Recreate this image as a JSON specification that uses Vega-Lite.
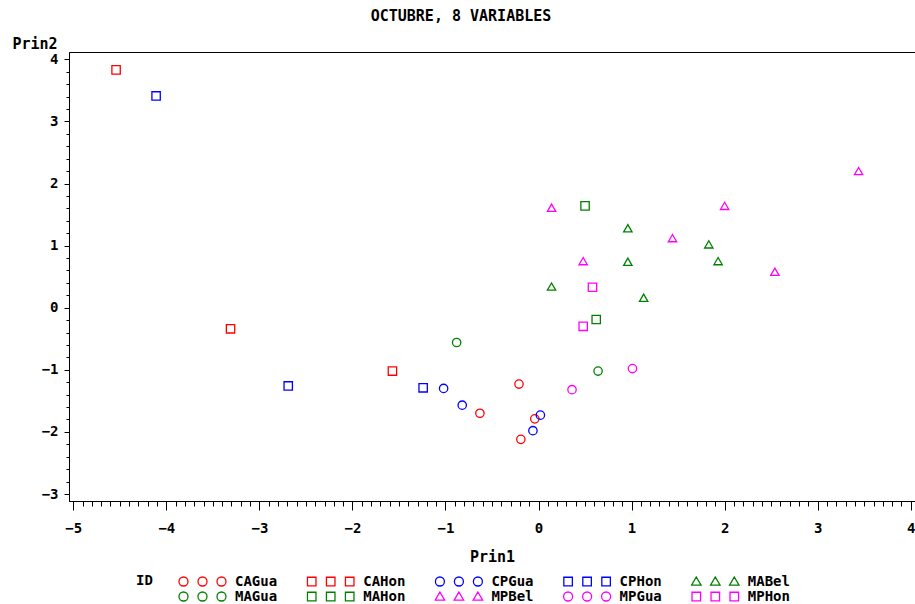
{
  "$schema": "https://vega.github.io/schema/vega-lite/v6.json",
  "autosize": "none",
  "padding": {"left": 69, "top": 52, "right": 0, "bottom": 103},
  "width": 846,
  "height": 449,
  "background": "#ffffff",
  "title": {
    "text": "OCTUBRE, 8 VARIABLES",
    "anchor": "middle",
    "frame": "group",
    "dx": -31,
    "offset": 12,
    "font": "DejaVu Sans Mono",
    "fontSize": 15,
    "fontWeight": "bold",
    "color": "#000000"
  },
  "config": {
    "view": {"stroke": "#000000", "strokeWidth": 1},
    "axis": {
      "grid": false,
      "domainColor": "#000000",
      "tickColor": "#000000",
      "labelColor": "#000000",
      "titleColor": "#000000",
      "labelFont": "DejaVu Sans Mono",
      "labelFontWeight": "bold",
      "labelFontSize": 14,
      "titleFont": "DejaVu Sans Mono",
      "titleFontWeight": "bold",
      "titleFontSize": 15
    }
  },
  "data": {
    "values": [
      {"ID": "CAGua", "Prin1": -0.21, "Prin2": -1.23},
      {"ID": "CAGua", "Prin1": -0.63, "Prin2": -1.70},
      {"ID": "CAGua", "Prin1": -0.04, "Prin2": -1.79},
      {"ID": "CAGua", "Prin1": -0.19, "Prin2": -2.12},
      {"ID": "CAHon", "Prin1": -4.54, "Prin2": 3.83},
      {"ID": "CAHon", "Prin1": -3.31, "Prin2": -0.34},
      {"ID": "CAHon", "Prin1": -1.57, "Prin2": -1.02},
      {"ID": "CPGua", "Prin1": -1.02, "Prin2": -1.30},
      {"ID": "CPGua", "Prin1": -0.82, "Prin2": -1.57},
      {"ID": "CPGua", "Prin1": 0.02, "Prin2": -1.73},
      {"ID": "CPGua", "Prin1": -0.06, "Prin2": -1.98},
      {"ID": "CPHon", "Prin1": -4.11, "Prin2": 3.41},
      {"ID": "CPHon", "Prin1": -2.69, "Prin2": -1.26},
      {"ID": "CPHon", "Prin1": -1.24, "Prin2": -1.29},
      {"ID": "MABel", "Prin1": 0.96, "Prin2": 1.28},
      {"ID": "MABel", "Prin1": 1.83, "Prin2": 1.02},
      {"ID": "MABel", "Prin1": 0.96, "Prin2": 0.74},
      {"ID": "MABel", "Prin1": 1.93, "Prin2": 0.75},
      {"ID": "MABel", "Prin1": 0.14, "Prin2": 0.34},
      {"ID": "MABel", "Prin1": 1.13, "Prin2": 0.16},
      {"ID": "MAGua", "Prin1": -0.88, "Prin2": -0.56},
      {"ID": "MAGua", "Prin1": 0.64, "Prin2": -1.02},
      {"ID": "MAHon", "Prin1": 0.50, "Prin2": 1.64},
      {"ID": "MAHon", "Prin1": 0.62, "Prin2": -0.19},
      {"ID": "MPBel", "Prin1": 3.44, "Prin2": 2.20},
      {"ID": "MPBel", "Prin1": 0.14, "Prin2": 1.61},
      {"ID": "MPBel", "Prin1": 2.00, "Prin2": 1.64},
      {"ID": "MPBel", "Prin1": 1.44, "Prin2": 1.12},
      {"ID": "MPBel", "Prin1": 0.48, "Prin2": 0.75},
      {"ID": "MPBel", "Prin1": 2.54, "Prin2": 0.58},
      {"ID": "MPGua", "Prin1": 0.36, "Prin2": -1.32},
      {"ID": "MPGua", "Prin1": 1.01, "Prin2": -0.98},
      {"ID": "MPHon", "Prin1": 0.58, "Prin2": 0.33},
      {"ID": "MPHon", "Prin1": 0.48, "Prin2": -0.30}
    ]
  },
  "layer": [
    {
      "mark": {"type": "point", "filled": false, "size": 70, "strokeWidth": 1.3, "opacity": 1},
      "encoding": {
        "x": {
          "field": "Prin1", "type": "quantitative",
          "scale": {"domain": [-5.046, 4.046], "nice": false, "zero": false},
          "axis": {
            "orient": "bottom",
            "values": [-5, -4, -3, -2, -1, 0, 1, 2, 3, 4],
            "format": "d",
            "tickSize": 9,
            "labelPadding": 11,
            "labelBaseline": "top",
            "title": "Prin1",
            "titleBaseline": "alphabetic",
            "titleY": 60
          }
        },
        "y": {
          "field": "Prin2", "type": "quantitative",
          "scale": {"domain": [-3.1127, 4.1176], "nice": false, "zero": false},
          "axis": {
            "orient": "left",
            "values": [-3, -2, -1, 0, 1, 2, 3, 4],
            "format": "d",
            "tickSize": 5,
            "labelPadding": 6,
            "title": "Prin2",
            "titleAngle": 0,
            "titleAlign": "left",
            "titleBaseline": "alphabetic",
            "titleX": -57,
            "titleY": -4
          }
        },
        "color": {
          "field": "ID", "type": "nominal",
          "scale": {
            "domain": ["CAGua", "CAHon", "CPGua", "CPHon", "MABel", "MAGua", "MAHon", "MPBel", "MPGua", "MPHon"],
            "range": ["#ff0000", "#ff0000", "#0000ff", "#0000ff", "#008000", "#008000", "#008000", "#ff00ff", "#ff00ff", "#ff00ff"]
          },
          "legend": null
        },
        "shape": {
          "field": "ID", "type": "nominal",
          "scale": {
            "domain": ["CAGua", "CAHon", "CPGua", "CPHon", "MABel", "MAGua", "MAHon", "MPBel", "MPGua", "MPHon"],
            "range": ["circle", "square", "circle", "square", "triangle-up", "circle", "square", "triangle-up", "circle", "square"]
          },
          "legend": null
        }
      }
    },
    {
      "mark": {"type": "point", "filled": false, "opacity": 0},
      "encoding": {
        "x": {
          "field": "Prin1", "type": "quantitative",
          "axis": {
            "orient": "bottom",
            "values": [-5, -4.9, -4.8, -4.7, -4.6, -4.5, -4.4, -4.3, -4.2, -4.1, -4, -3.9, -3.8, -3.7, -3.6, -3.5, -3.4, -3.3, -3.2, -3.1, -3, -2.9, -2.8, -2.7, -2.6, -2.5, -2.4, -2.3, -2.2, -2.1, -2, -1.9, -1.8, -1.7, -1.6, -1.5, -1.4, -1.3, -1.2, -1.1, -1, -0.9, -0.8, -0.7, -0.6, -0.5, -0.4, -0.3, -0.2, -0.1, 0, 0.1, 0.2, 0.3, 0.4, 0.5, 0.6, 0.7, 0.8, 0.9, 1, 1.1, 1.2, 1.3, 1.4, 1.5, 1.6, 1.7, 1.8, 1.9, 2, 2.1, 2.2, 2.3, 2.4, 2.5, 2.6, 2.7, 2.8, 2.9, 3, 3.1, 3.2, 3.3, 3.4, 3.5, 3.6, 3.7, 3.8, 3.9, 4],
            "labels": false,
            "domain": false,
            "tickSize": 5,
            "title": null
          }
        },
        "y": {
          "field": "Prin2", "type": "quantitative",
          "axis": {
            "orient": "left",
            "values": [-3, -2.8, -2.6, -2.4, -2.2, -2, -1.8, -1.6, -1.4, -1.2, -1, -0.8, -0.6, -0.4, -0.2, 0, 0.2, 0.4, 0.6, 0.8, 1, 1.2, 1.4, 1.6, 1.8, 2, 2.2, 2.4, 2.6, 2.8, 3, 3.2, 3.4, 3.6, 3.8, 4],
            "labels": false,
            "domain": false,
            "tickSize": 3,
            "title": null
          }
        },
        "color": {
          "field": "ID", "type": "nominal",
          "scale": {
            "domain": ["CAGua", "CAHon", "CPGua", "CPHon", "MABel", "MAGua", "MAHon", "MPBel", "MPGua", "MPHon"],
            "range": ["#ff0000", "#ff0000", "#0000ff", "#0000ff", "#008000", "#008000", "#008000", "#ff00ff", "#ff00ff", "#ff00ff"]
          },
          "legend": {
            "orient": "none", "legendX": 67, "legendY": 522,
            "direction": "horizontal", "columns": 5,
            "title": "ID", "titleOrient": "left", "titlePadding": 25, "titleAnchor": "start",
            "titleFont": "DejaVu Sans Mono", "titleFontSize": 14, "titleFontWeight": "bold", "titleColor": "#000000",
            "labelFont": "DejaVu Sans Mono", "labelFontSize": 14, "labelFontWeight": "bold", "labelColor": "#000000",
            "symbolSize": 2256, "symbolStrokeWidth": 1.3, "symbolOpacity": 1, "clipHeight": 15,
            "labelOffset": 8, "columnPadding": 28.2, "rowPadding": 0, "padding": 0
          }
        },
        "shape": {
          "field": "ID", "type": "nominal",
          "scale": {
            "domain": ["CAGua", "CAHon", "CPGua", "CPHon", "MABel", "MAGua", "MAHon", "MPBel", "MPGua", "MPHon"],
            "range": [
              "M-0.61,0A0.19,0.19 0 1,1 -0.99,0A0.19,0.19 0 1,1 -0.61,0ZM0.19,0A0.19,0.19 0 1,1 -0.19,0A0.19,0.19 0 1,1 0.19,0ZM0.99,0A0.19,0.19 0 1,1 0.61,0A0.19,0.19 0 1,1 0.99,0Z",
              "M-0.98,-0.18H-0.62V0.18H-0.98ZM-0.18,-0.18H0.18V0.18H-0.18ZM0.62,-0.18H0.98V0.18H0.62Z",
              "M-0.61,0A0.19,0.19 0 1,1 -0.99,0A0.19,0.19 0 1,1 -0.61,0ZM0.19,0A0.19,0.19 0 1,1 -0.19,0A0.19,0.19 0 1,1 0.19,0ZM0.99,0A0.19,0.19 0 1,1 0.61,0A0.19,0.19 0 1,1 0.99,0Z",
              "M-0.98,-0.18H-0.62V0.18H-0.98ZM-0.18,-0.18H0.18V0.18H-0.18ZM0.62,-0.18H0.98V0.18H0.62Z",
              "M-0.8,-0.19L-0.6,0.15H-1ZM0,-0.19L0.2,0.15H-0.2ZM0.8,-0.19L1,0.15H0.6Z",
              "M-0.61,0A0.19,0.19 0 1,1 -0.99,0A0.19,0.19 0 1,1 -0.61,0ZM0.19,0A0.19,0.19 0 1,1 -0.19,0A0.19,0.19 0 1,1 0.19,0ZM0.99,0A0.19,0.19 0 1,1 0.61,0A0.19,0.19 0 1,1 0.99,0Z",
              "M-0.98,-0.18H-0.62V0.18H-0.98ZM-0.18,-0.18H0.18V0.18H-0.18ZM0.62,-0.18H0.98V0.18H0.62Z",
              "M-0.8,-0.19L-0.6,0.15H-1ZM0,-0.19L0.2,0.15H-0.2ZM0.8,-0.19L1,0.15H0.6Z",
              "M-0.61,0A0.19,0.19 0 1,1 -0.99,0A0.19,0.19 0 1,1 -0.61,0ZM0.19,0A0.19,0.19 0 1,1 -0.19,0A0.19,0.19 0 1,1 0.19,0ZM0.99,0A0.19,0.19 0 1,1 0.61,0A0.19,0.19 0 1,1 0.99,0Z",
              "M-0.98,-0.18H-0.62V0.18H-0.98ZM-0.18,-0.18H0.18V0.18H-0.18ZM0.62,-0.18H0.98V0.18H0.62Z"
            ]
          },
          "legend": {
            "orient": "none", "legendX": 67, "legendY": 522,
            "direction": "horizontal", "columns": 5,
            "title": "ID", "titleOrient": "left", "titlePadding": 25, "titleAnchor": "start",
            "titleFont": "DejaVu Sans Mono", "titleFontSize": 14, "titleFontWeight": "bold", "titleColor": "#000000",
            "labelFont": "DejaVu Sans Mono", "labelFontSize": 14, "labelFontWeight": "bold", "labelColor": "#000000",
            "symbolSize": 2256, "symbolStrokeWidth": 1.3, "symbolOpacity": 1, "clipHeight": 15,
            "labelOffset": 8, "columnPadding": 28.2, "rowPadding": 0, "padding": 0
          }
        }
      }
    }
  ],
  "resolve": {
    "scale": {"color": "independent", "shape": "independent"},
    "axis": {"x": "independent", "y": "independent"}
  }
}
